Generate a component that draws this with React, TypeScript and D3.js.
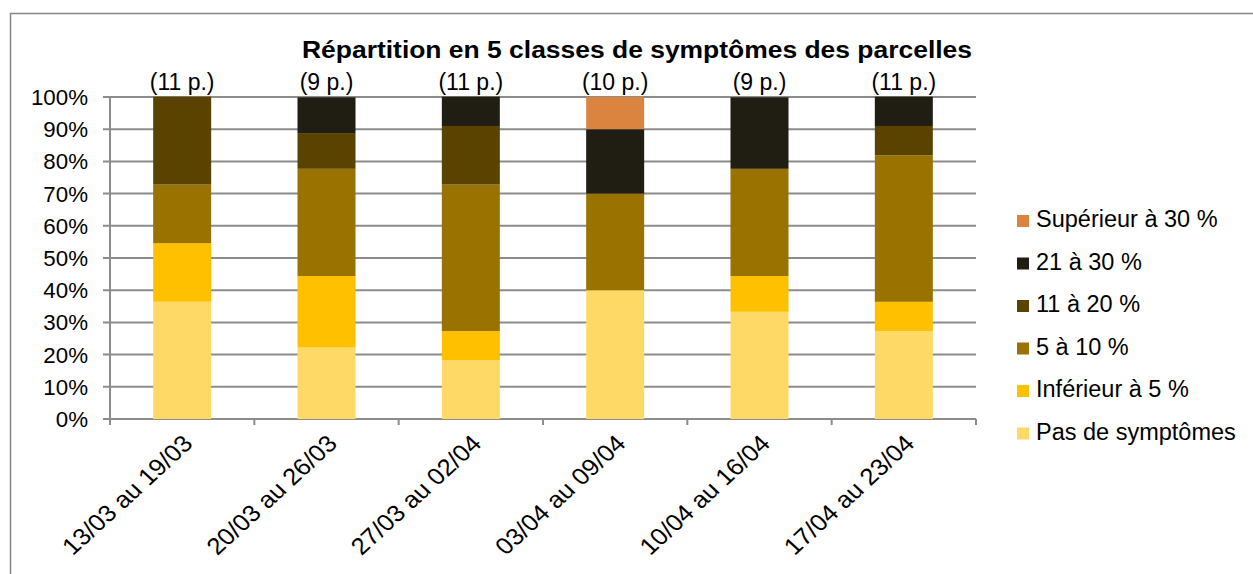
import React from "react";
import * as d3 from "d3";

const categories = ["13/03 au 19/03", "20/03 au 26/03", "27/03 au 02/04", "03/04 au 09/04", "10/04 au 16/04", "17/04 au 23/04"];
const parcelLabels = ["(11 p.)", "(9 p.)", "(11 p.)", "(10 p.)", "(9 p.)", "(11 p.)"];
const seriesNames = ["Pas de symptômes", "Inférieur à 5 %", "5 à 10 %", "11 à 20 %", "21 à 30 %", "Supérieur à 30 %"];
const seriesColors = ["#FFD966", "#FFC000", "#9A7200", "#5A4300", "#201D12", "#DA8440"];
const pasDeSymptomes = [36.4, 22.2, 18.2, 40, 33.3, 27.3];
const inferieur5 = [18.2, 22.2, 9.1, 0, 11.1, 9.1];
const de5a10 = [18.2, 33.3, 45.5, 30, 33.3, 45.5];
const de11a20 = [27.3, 11.1, 18.2, 0, 0, 9.1];
const de21a30 = [0, 11.1, 9.1, 20, 22.2, 9.1];
const superieur30 = [0, 0, 0, 10, 0, 0];
const yTicks = [0, 10, 20, 30, 40, 50, 60, 70, 80, 90, 100];
const title = "Répartition en 5 classes de symptômes des parcelles";

const seriesValues = [pasDeSymptomes, inferieur5, de5a10, de11a20, de21a30, superieur30];

export default function App() {
  const W = 1253, H = 574;
  const left = 110, right = 976, top = 97, bottom = 419;
  const font = "'Liberation Sans', Arial, sans-serif";
  const x = d3.scaleBand().domain(categories).range([left, right]);
  const y = d3.scaleLinear().domain([0, 100]).range([bottom, top]);

  const table = categories.map((c, i) => {
    const row: any = { cat: c };
    seriesNames.forEach((s, k) => (row[s] = seriesValues[k][i]));
    return row;
  });
  const stacked = d3.stack().keys(seriesNames)(table as any);

  const bw = 58;
  const grid = "#8C8C8C";
  const cxOf = (c: string) => x(c)! + x.bandwidth() / 2;

  return (
    <svg width={W} height={H} style={{ position: "absolute", left: 0, top: 0 }} fontFamily={font}>
      <rect x={0} y={0} width={W} height={H} fill="#fff" />
      <path d={`M10.5,${H + 2} V13.5 H${W + 2}`} fill="none" stroke="#868686" strokeWidth={1.5} />
      <text x={637} y={58} textAnchor="middle" fontSize={23} fontWeight="bold" fill="#000" textLength={670} lengthAdjust="spacingAndGlyphs">{title}</text>
      {yTicks.map((t) => (
        <g key={t}>
          <line x1={left - 7} x2={right} y1={y(t)} y2={y(t)} stroke={grid} strokeWidth={2} />
          <text x={88} y={y(t) + 8} textAnchor="end" fontSize={22.3} fill="#000">{t}%</text>
        </g>
      ))}
      <line x1={left} x2={left} y1={top} y2={bottom + 6} stroke={grid} strokeWidth={2} />
      {categories.map((c) => (
        <line key={c} x1={x(c)! + x.bandwidth()} x2={x(c)! + x.bandwidth()} y1={bottom} y2={bottom + 6} stroke={grid} strokeWidth={2} />
      ))}
      {stacked.map((layer, k) => (
        <g key={seriesNames[k]} fill={seriesColors[k]}>
          {layer.map((d, i) => {
            const cx = cxOf(categories[i]);
            const h = y(d[0]) - y(d[1]);
            if (h <= 0) return null;
            return <rect key={i} x={cx - bw / 2} y={y(d[1])} width={bw} height={h} />;
          })}
        </g>
      ))}
      {categories.map((c, i) => (
        <text key={c} x={cxOf(c)} y={90} textAnchor="middle" fontSize={23} fill="#000">{parcelLabels[i]}</text>
      ))}
      {categories.map((c) => (
        <text key={c} transform={`translate(${cxOf(c) + 12},${445}) scale(1.09,1) rotate(-45)`} textAnchor="end" fontSize={23.6} fill="#000">{c}</text>
      ))}
      {seriesNames.slice().reverse().map((s, j) => {
        const k = seriesNames.length - 1 - j;
        const ly = 221 + j * 42.5;
        return (
          <g key={s}>
            <rect x={1017} y={ly - 6} width={12} height={12} fill={seriesColors[k]} />
            <text x={1036} y={ly + 6} fontSize={23.5} fill="#000">{s}</text>
          </g>
        );
      })}
    </svg>
  );
}
